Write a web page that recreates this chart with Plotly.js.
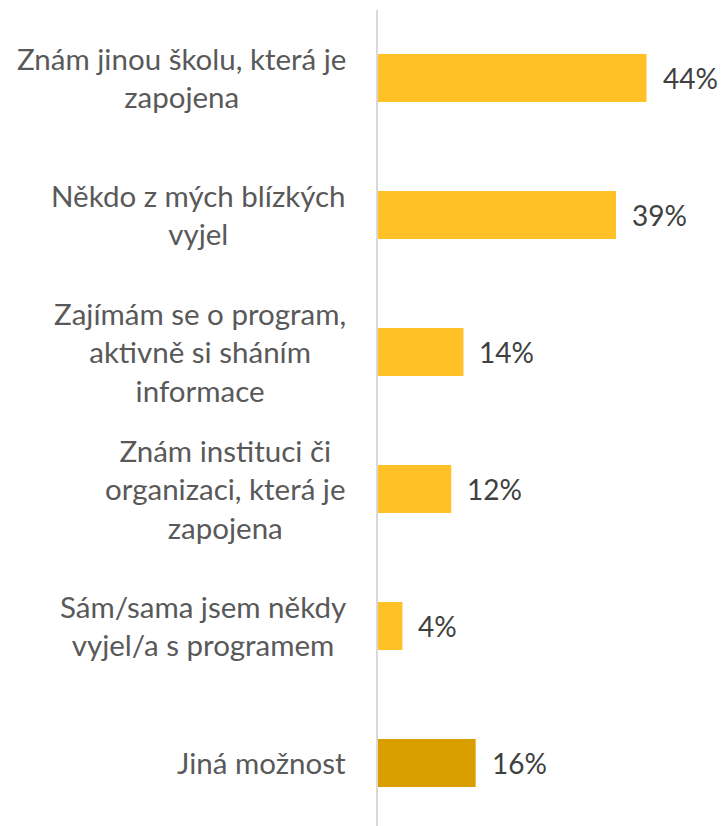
<!DOCTYPE html>
<html>
<head>
<meta charset="utf-8">
<script src="https://cdn.plot.ly/plotly-3.0.1.min.js"></script>
<style>html,body{margin:0;padding:0;background:#fff;}#chart{width:721px;height:826px;}</style>
</head>
<body>
<div id="chart"></div>
<script>
const categories = [
  "Znám jinou školu, která je<br>zapojena",
  "Někdo z mých blízkých<br>vyjel",
  "Zajímám se o program,<br>aktivně si sháním<br>informace",
  "Znám instituci či<br>organizaci, která je<br>zapojena",
  "Sám/sama jsem někdy<br>vyjel/a s programem",
  "Jiná možnost"
];
const values = [44, 39, 14, 12, 4, 16];
const valueLabels = ["44%", "39%", "14%", "12%", "4%", "16%"];
const barColors = ["#FFC125", "#FFC125", "#FFC125", "#FFC125", "#FFC125", "#D99E00"];

const ids = categories.map((c, i) => i);

const trace = {
  type: "bar",
  orientation: "h",
  x: values,
  y: ids,
  width: 0.35,
  marker: {color: barColors},
  hoverinfo: "skip"
};

const font = "Lato, 'Open Sans', sans-serif";
const annotations = [];
categories.forEach((c, i) => {
  annotations.push({
    xref: "paper", yref: "y", x: 0, y: ids[i],
    xanchor: "right", yanchor: "middle", xshift: -30,
    text: c, align: "center", showarrow: false,
    font: {family: font, size: 29.5, color: "#595959"}
  });
  annotations.push({
    xref: "x", yref: "y", x: values[i], y: ids[i],
    xanchor: "left", yanchor: "middle", xshift: 14,
    text: valueLabels[i], showarrow: false,
    font: {family: font, size: 28, color: "#404040"}
  });
});

const layout = {
  width: 721, height: 826,
  margin: {l: 378, r: 0, t: 10, b: 0},
  paper_bgcolor: "#fff", plot_bgcolor: "#fff",
  showlegend: false,
  xaxis: {range: [0, 56.2], showgrid: false, zeroline: false, showticklabels: false, showline: false, ticks: ""},
  yaxis: {range: [5.46, -0.496], showgrid: false, zeroline: false, showticklabels: false, ticks: "",
          showline: true, linecolor: "#D9D9D9", linewidth: 2},
  annotations: annotations
};

Plotly.newPlot("chart", [trace], layout, {displayModeBar: false, staticPlot: true});
</script>
</body>
</html>
